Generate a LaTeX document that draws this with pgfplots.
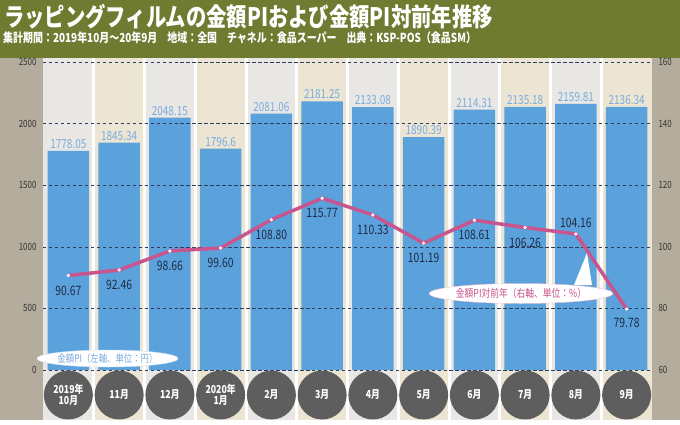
\documentclass[border=0pt]{standalone}
\usepackage{fontspec}
\setmainfont{Noto Sans CJK JP}
\newfontfamily\cond[FakeStretch=0.8]{Noto Sans CJK JP}
\usepackage{pgfplots}
\usepackage{pgfplotstable}
\pgfplotsset{compat=1.18}
\usetikzlibrary{shapes.geometric}
\definecolor{olivebg}{HTML}{6E7B30}
\definecolor{taupe}{HTML}{B4AC9C}
\definecolor{colA}{HTML}{E9E7E3}
\definecolor{colB}{HTML}{ECE5D4}
\definecolor{barblue}{HTML}{5BA2DC}
\definecolor{lblblue}{HTML}{78ACDF}
\definecolor{pinkline}{HTML}{C8558D}
\definecolor{navy}{HTML}{1E2A45}
\definecolor{gridc}{HTML}{2E3D5A}
\definecolor{circ}{HTML}{5E5E5E}
\definecolor{tickc}{HTML}{333333}

\pgfplotstableread{
x y lab
0 1778.05 1778.05
1 1845.34 1845.34
2 2048.15 2048.15
3 1796.6 1796.6
4 2081.06 2081.06
5 2181.25 2181.25
6 2133.08 2133.08
7 1890.39 1890.39
8 2114.31 2114.31
9 2135.18 2135.18
10 2159.81 2159.81
11 2136.34 2136.34
}\pidata

\pgfplotstableread{
x y lab dy
0 90.67 90.67 -15
1 92.46 92.46 -15
2 98.66 98.66 -15
3 99.60 99.60 -15
4 108.80 108.80 -15
5 115.77 115.77 -15
6 110.33 110.33 -15
7 101.19 101.19 -15
8 108.61 108.61 -15
9 106.26 106.26 -15
10 104.16 104.16 11
11 79.78 79.78 -14
}\yoydata

\begin{document}
\begin{tikzpicture}
\begin{scope}[x=1bp,y=1bp,shift={(-43bp,-54bp)}]
\fill[white] (0,0) rectangle (680,424);
\fill[taupe] (0,4) rectangle (680,366);
\fill[olivebg] (0,366) rectangle (680,424);
\foreach \i in {0,2,...,10} \fill[colA] ({43+50.75*\i},4) rectangle ({43+50.75*(\i+1)},366);
\foreach \i in {1,3,...,11} \fill[colB] ({43+50.75*\i},4) rectangle ({43+50.75*(\i+1)},366);
\foreach \i in {1,...,11} \fill[white] ({43+50.75*\i-1.5},4) rectangle ({43+50.75*\i+1.5},366);
\node[anchor=west, text=white, font=\cond\bfseries\fontsize{25.5}{27}\selectfont, inner sep=0] at (4,407) {ラッピングフィルムの金額PIおよび金額PI対前年推移};
\node[anchor=west, text=white, font=\cond\bfseries\fontsize{12.5}{13}\selectfont, inner sep=0] at (3,386) {集計期間：2019年10月～20年9月　地域：全国　チャネル：食品スーパー　出典：KSP-POS（食品SM）};
\end{scope}

\begin{axis}[
  at={(0,0)}, anchor=south west,
  scale only axis, width=609bp, height=308bp,
  xmin=-0.5, xmax=11.5, ymin=0, ymax=2500,
  ytick={0,500,...,2500},
  xtick={0,...,11},
  xticklabels={{2019年\\10月},11月,12月,{2020年\\1月},2月,3月,4月,5月,6月,7月,8月,9月},
  axis on top,
  ymajorgrids,
  grid style={gridc, line width=0.6pt, dash pattern=on 3.5pt off 2.5pt},
  axis line style={draw=none},
  major tick length=0pt,
  /pgf/number format/assume math mode=true,
  /pgf/number format/1000 sep={},
  yticklabel style={text=tickc, font=\cond\fontsize{10}{11}\selectfont, xshift=-3bp},
  xticklabel style={circle, fill=circ, text=white, minimum size=49bp, inner sep=0pt, align=center, font=\cond\bfseries\fontsize{11}{11.5}\selectfont, anchor=center, yshift=-25bp},
  clip=false,
]
\addplot[ybar, bar width=0.82, fill=barblue, draw=none,
  nodes near coords, point meta=explicit symbolic,
  nodes near coords style={text=lblblue, font=\cond\fontsize{12.5}{13}\selectfont, inner sep=2bp}]
  table[x=x, y=y, meta=lab] {\pidata};
\end{axis}

\begin{axis}[
  at={(0,0)}, anchor=south west,
  scale only axis, width=609bp, height=308bp,
  xmin=-0.5, xmax=11.5, ymin=60, ymax=160,
  ytick={60,80,...,160},
  axis y line*=right, axis x line=none,
  axis line style={draw=none},
  major tick length=0pt,
  /pgf/number format/assume math mode=true,
  yticklabel style={text=tickc, font=\cond\fontsize{10}{11}\selectfont, xshift=3bp},
  clip=false,
]
\addplot[pinkline, line width=3.5bp, mark=*, mark size=1.5bp, mark options={fill=white, draw=white, line width=0.3bp},
  visualization depends on={\thisrow{dy} \as \dy},
  nodes near coords, point meta=explicit symbolic,
  nodes near coords style={anchor=center, text=navy, font=\cond\fontsize{13}{14}\selectfont, yshift=\dy bp}]
  table[x=x, y=y, meta=lab] {\yoydata};
\end{axis}

\begin{scope}[x=1bp,y=1bp,shift={(-43bp,-54bp)}]
\fill[white] (574,139) -- (587,171) -- (592,139) -- cycle;
\node[ellipse, fill=white, draw=lblblue!40, line width=0.4pt, minimum width=122bp, minimum height=17bp, inner sep=0pt, text=lblblue, font=\cond\fontsize{10.5}{11}\selectfont] at (107.5,65.5) {金額PI（左軸、単位：円）};
\node[ellipse, fill=white, draw=pinkline!40, line width=0.4pt, minimum width=164bp, minimum height=20bp, inner sep=0pt, text=pinkline, font=\cond\fontsize{11}{12}\selectfont] at (521,130.5) {金額PI対前年（右軸、単位：\%）};
\end{scope}
\end{tikzpicture}
\end{document}
